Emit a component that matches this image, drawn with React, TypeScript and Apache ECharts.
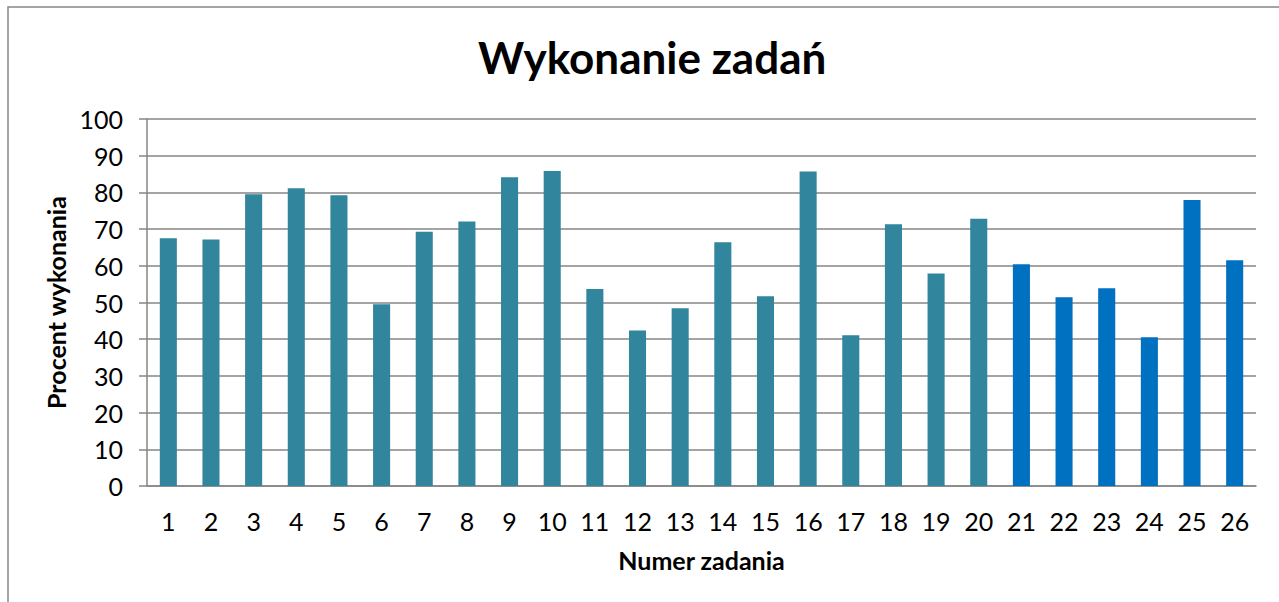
import React, { useEffect, useRef } from "react";
import * as echarts from "echarts";

const categories = ["1","2","3","4","5","6","7","8","9","10","11","12","13","14","15","16","17","18","19","20","21","22","23","24","25","26"];
const values = [67.5, 67.2, 79.5, 81.1, 79.2, 49.5, 69.3, 72.1, 84.1, 85.8, 53.7, 42.4, 48.4, 66.4, 51.7, 85.7, 41.1, 71.3, 57.9, 72.8, 60.4, 51.4, 53.9, 40.5, 77.9, 61.5];
const title = "Wykonanie zadań";
const xName = "Numer zadania";
const yName = "Procent wykonania";
const blueFromIndex = 20;

export default function App() {
  const ref = useRef<HTMLDivElement>(null);
  useEffect(() => {
    if (!ref.current) return;
    const chart = echarts.init(ref.current, null, { renderer: "svg" });
    const font = "Lato, 'Open Sans', sans-serif";
    chart.setOption({
      animation: false,
      backgroundColor: "#ffffff",
      textStyle: { fontFamily: font },
      title: {
        text: title,
        left: 473,
        top: 30,
        textStyle: { fontSize: 44, fontWeight: "bold", color: "#000", fontFamily: font },
      },
      graphic: [
        {
          type: "rect",
          shape: { x: 8, y: 7, width: 1300, height: 640 },
          style: { fill: "none", stroke: "#868686", lineWidth: 1.5 },
          silent: true,
          z: 100,
        },
      ],
      grid: { left: 147, right: 23, top: 119, bottom: 116 },
      xAxis: {
        type: "category",
        data: categories,
        name: xName,
        nameLocation: "middle",
        nameGap: 61,
        nameTextStyle: { fontSize: 25, fontWeight: "bold", color: "#000", fontFamily: font },
        axisLine: { lineStyle: { color: "#868686", width: 1.5 } },
        axisTick: { show: false },
        axisLabel: { fontSize: 25, color: "#000", margin: 22, fontFamily: font },
      },
      yAxis: {
        type: "value",
        min: 0,
        max: 100,
        interval: 10,
        name: yName,
        nameLocation: "middle",
        nameGap: 78,
        nameRotate: 90,
        nameTextStyle: { fontSize: 25, fontWeight: "bold", color: "#000", fontFamily: font },
        axisLine: { show: true, lineStyle: { color: "#868686", width: 1.5 } },
        axisTick: { show: true, inside: false, length: 8, lineStyle: { color: "#868686", width: 1.5 } },
        axisLabel: { fontSize: 25, color: "#000", margin: 24, fontFamily: font },
        splitLine: { lineStyle: { color: "#868686", width: 1.5 } },
      },
      series: [
        {
          type: "bar",
          data: values,
          barWidth: "40%",
          itemStyle: {
            color: (p: any) => (p.dataIndex >= blueFromIndex ? "#0070C0" : "#31859C"),
          },
        },
      ],
    });
    return () => chart.dispose();
  }, []);
  return <div ref={ref} style={{ position: "absolute", left: 0, top: 0, width: 1279, height: 602 }} />;
}
